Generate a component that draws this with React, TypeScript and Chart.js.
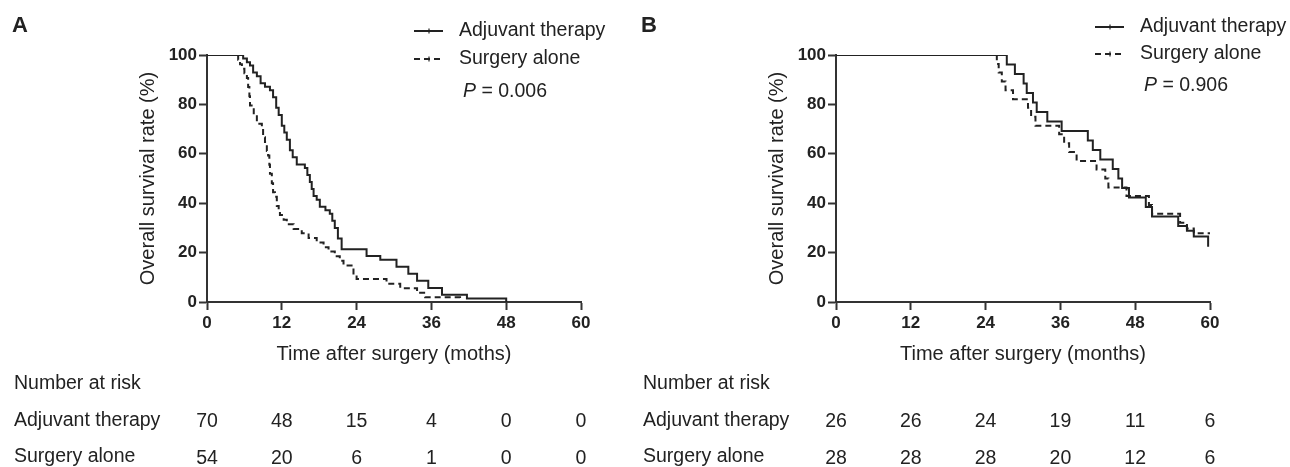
import React, { useEffect, useRef } from 'react';
import { Chart, registerables } from 'chart.js';

Chart.register(...registerables);

// ---------- data ----------
const xTicks = [0, 12, 24, 36, 48, 60];
const yTicks = [0, 20, 40, 60, 80, 100];
const riskTimes = [0, 12, 24, 36, 48, 60];
const seriesNames = ['Adjuvant therapy', 'Surgery alone'];
const riskTitle = 'Number at risk';

// Panel A: Kaplan-Meier steps (months, % surviving)
const aAdjTimes = [0, 5.8, 6.4, 6.9, 7.4, 8.0, 8.6, 9.3, 10.1, 10.6, 11.1, 11.5, 12.0, 12.4, 12.8, 13.3, 13.75, 14.4, 15.7, 16.1, 16.5, 16.8, 17.1, 17.6, 18.1, 19.0, 19.7, 20.1, 20.5, 21.0, 21.6, 25.6, 27.8, 30.4, 32.3, 33.7, 35.5, 37.7, 41.7, 48];
const aAdjSurv = [100, 98.6, 97.1, 95.7, 92.9, 91.4, 88.6, 87.1, 85.7, 82.9, 78.6, 75.7, 71.4, 68.6, 65.7, 61.4, 58.6, 55.7, 54.3, 51.4, 48.6, 45.7, 42.9, 41.4, 38.6, 37.1, 35.7, 32.9, 30.0, 25.7, 21.4, 18.6, 17.1, 14.3, 11.4, 8.6, 5.7, 2.9, 1.4, 0];
const aSurgTimes = [0, 5.0, 5.3, 5.6, 6.0, 6.4, 6.6, 6.8, 6.9, 7.5, 8.0, 8.8, 9.0, 9.3, 9.6, 9.8, 10.0, 10.1, 10.4, 10.6, 10.9, 11.2, 11.5, 11.7, 12.3, 12.8, 13.9, 15.2, 16.3, 17.6, 18.7, 19.5, 20.5, 21.3, 21.9, 23.5, 24.0, 28.8, 31.0, 33.7, 35.0, 40.6];
const aSurgSurv = [100, 98.1, 96.3, 94.4, 92.6, 90.7, 87.0, 83.3, 79.6, 75.9, 72.2, 70.4, 66.7, 64.8, 61.1, 59.3, 55.6, 51.9, 48.1, 44.4, 42.6, 38.9, 37.0, 35.2, 33.3, 31.5, 29.6, 27.8, 25.9, 24.1, 22.2, 20.4, 18.5, 16.7, 14.8, 11.1, 9.3, 7.4, 5.6, 3.7, 1.9, 0];
const aRiskAdj = [70, 48, 15, 4, 0, 0];
const aRiskSurg = [54, 20, 6, 1, 0, 0];

// Panel B
const bAdjTimes = [0, 27.4, 28.7, 30.1, 30.6, 31.6, 32.2, 33.9, 36.2, 40.4, 41.2, 42.4, 44.4, 45.3, 45.9, 47.0, 49.7, 50.7, 54.9, 56.3, 57.4, 59.7];
const bAdjSurv = [100, 96.2, 92.3, 88.5, 84.6, 80.8, 76.9, 73.1, 69.2, 65.4, 61.5, 57.7, 53.8, 50.0, 46.2, 42.3, 38.5, 34.6, 30.8, 28.8, 26.5, 22.4];
const bSurgTimes = [0, 25.8, 26.1, 26.6, 27.2, 28.4, 30.8, 31.3, 32.0, 35.8, 36.6, 37.4, 38.6, 41.8, 43.2, 43.7, 46.6, 50.2, 50.7, 55.2, 56.3, 57.4, 60];
const bSurgSurv = [100, 96.4, 92.9, 89.3, 85.7, 82.1, 78.6, 75.0, 71.4, 67.9, 64.3, 60.7, 57.1, 53.6, 50.0, 46.4, 42.9, 39.3, 35.7, 32.1, 29.8, 27.8, 27.8];
const bRiskAdj = [26, 26, 24, 19, 11, 6];
const bRiskSurg = [28, 28, 28, 20, 12, 6];

const FONT = "'Liberation Sans', Arial, Helvetica, sans-serif";
const INK = '#222';
const H = 467;

type PanelCfg = {
  left: number;
  width: number;
  letter: string;
  xTitle: string;
  adjTimes: number[];
  adjSurv: number[];
  surgTimes: number[];
  surgSurv: number[];
  riskAdj: number[];
  riskSurg: number[];
  pText: string;
  legendX: number;
  legendY: number[];
  pY: number;
};

const panelA: PanelCfg = {
  left: 0, width: 629, letter: 'A', xTitle: 'Time after surgery (moths)',
  adjTimes: aAdjTimes, adjSurv: aAdjSurv, surgTimes: aSurgTimes, surgSurv: aSurgSurv,
  riskAdj: aRiskAdj, riskSurg: aRiskSurg, pText: '0.006',
  legendX: 414, legendY: [31, 59], pY: 92,
};
const panelB: PanelCfg = {
  left: 629, width: 661, letter: 'B', xTitle: 'Time after surgery (months)',
  adjTimes: bAdjTimes, adjSurv: bAdjSurv, surgTimes: bSurgTimes, surgSurv: bSurgSurv,
  riskAdj: bRiskAdj, riskSurg: bRiskSurg, pText: '0.906',
  legendX: 466, legendY: [27, 54], pY: 86,
};

const PLOT_LEFT = 207;
const PLOT_RIGHT = 581;
const PLOT_TOP = 55;
const PLOT_BOTTOM = 302;
const X_AXIS_H = 66;

function toPoints(t: number[], s: number[]) {
  return t.map((v, i) => ({ x: v, y: s[i] }));
}

function makeOverlay(cfg: PanelCfg) {
  return {
    id: 'overlay' + cfg.letter,
    afterDraw(chart: any) {
      const ctx = chart.ctx as CanvasRenderingContext2D;
      const xs = chart.scales.x;
      ctx.save();
      ctx.fillStyle = INK;
      ctx.strokeStyle = INK;
      ctx.textBaseline = 'middle';
      // panel letter
      ctx.font = `bold 22px ${FONT}`;
      ctx.textAlign = 'left';
      ctx.fillText(cfg.letter, 12, 26);
      // legend
      ctx.font = `19.5px ${FONT}`;
      seriesNames.forEach((name, i) => {
        const y = cfg.legendY[i];
        ctx.lineWidth = 2;
        ctx.setLineDash(i === 0 ? [] : [6, 4]);
        ctx.beginPath();
        ctx.moveTo(cfg.legendX, y);
        ctx.lineTo(cfg.legendX + 29, y);
        ctx.stroke();
        ctx.setLineDash([]);
        ctx.lineWidth = 1.2;
        ctx.beginPath();
        ctx.moveTo(cfg.legendX + 15, y - 2.5);
        ctx.lineTo(cfg.legendX + 15, y + 2.5);
        ctx.stroke();
        ctx.fillText(name, cfg.legendX + 45, y);
      });
      // P value
      const px = cfg.legendX + 49;
      ctx.font = `italic 19.5px ${FONT}`;
      ctx.fillText('P', px, cfg.pY);
      const pw = ctx.measureText('P').width;
      ctx.font = `19.5px ${FONT}`;
      ctx.fillText(' = ' + cfg.pText, px + pw, cfg.pY);
      // risk table
      ctx.textAlign = 'left';
      ctx.fillText(riskTitle, 14, 384);
      ctx.fillText(seriesNames[0], 14, 421);
      ctx.fillText(seriesNames[1], 14, 457);
      ctx.textAlign = 'center';
      riskTimes.forEach((t, j) => {
        const x = xs.getPixelForValue(t);
        ctx.fillText(String(cfg.riskAdj[j]), x, 422);
        ctx.fillText(String(cfg.riskSurg[j]), x, 459);
      });
      ctx.restore();
    },
  };
}

function buildConfig(cfg: PanelCfg): any {
  const tickFont = { family: FONT, size: 17, weight: 'bold' as const };
  const titleFont = { family: FONT, size: 20 };
  return {
    type: 'line',
    data: {
      datasets: [
        {
          label: seriesNames[0],
          data: toPoints(cfg.adjTimes, cfg.adjSurv),
          stepped: 'before',
          borderColor: INK,
          borderWidth: 2,
          pointRadius: 0,
          fill: false,
        },
        {
          label: seriesNames[1],
          data: toPoints(cfg.surgTimes, cfg.surgSurv),
          stepped: 'before',
          borderColor: INK,
          borderWidth: 2,
          borderDash: [6, 4],
          pointRadius: 0,
          fill: false,
        },
      ],
    },
    options: {
      animation: false,
      responsive: false,
      devicePixelRatio: 1,
      layout: {
        padding: {
          left: 130,
          top: PLOT_TOP,
          right: cfg.width - PLOT_RIGHT,
          bottom: H - PLOT_BOTTOM - X_AXIS_H,
        },
      },
      plugins: { legend: { display: false }, tooltip: { enabled: false } },
      scales: {
        x: {
          type: 'linear',
          min: 0,
          max: 60,
          afterBuildTicks: (s: any) => { s.ticks = xTicks.map((v) => ({ value: v })); },
          afterFit: (s: any) => { s.height = X_AXIS_H; },
          grid: { drawOnChartArea: false, tickLength: 8, tickColor: '#333', tickWidth: 2 },
          border: { color: '#333', width: 2 },
          ticks: { font: tickFont, color: INK, padding: 3, maxRotation: 0, autoSkip: false },
          title: { display: true, text: cfg.xTitle, font: titleFont, color: INK, padding: { top: 0, bottom: 2 } },
        },
        y: {
          type: 'linear',
          min: 0,
          max: 100,
          afterBuildTicks: (s: any) => { s.ticks = yTicks.map((v) => ({ value: v })); },
          afterFit: (s: any) => { s.width = PLOT_LEFT - 130; },
          grid: { drawOnChartArea: false, tickLength: 8, tickColor: '#333', tickWidth: 2 },
          border: { color: '#333', width: 2 },
          ticks: { font: tickFont, color: INK, padding: 2, autoSkip: false },
          title: { display: true, text: 'Overall survival rate (%)', font: titleFont, color: INK, padding: { top: 6, bottom: 0 } },
        },
      },
    },
    plugins: [makeOverlay(cfg)],
  };
}

function Panel({ cfg }: { cfg: PanelCfg }) {
  const ref = useRef<HTMLCanvasElement | null>(null);
  useEffect(() => {
    if (!ref.current) return;
    const chart = new Chart(ref.current, buildConfig(cfg));
    return () => chart.destroy();
  }, [cfg]);
  return (
    <canvas
      ref={ref}
      width={cfg.width}
      height={H}
      style={{ position: 'absolute', left: cfg.left, top: 0, width: cfg.width, height: H, display: 'block' }}
    />
  );
}

export default function App() {
  return (
    <div style={{ position: 'fixed', left: 0, top: 0, width: 1290, height: H, background: '#fff', overflow: 'hidden' }}>
      <Panel cfg={panelA} />
      <Panel cfg={panelB} />
    </div>
  );
}
